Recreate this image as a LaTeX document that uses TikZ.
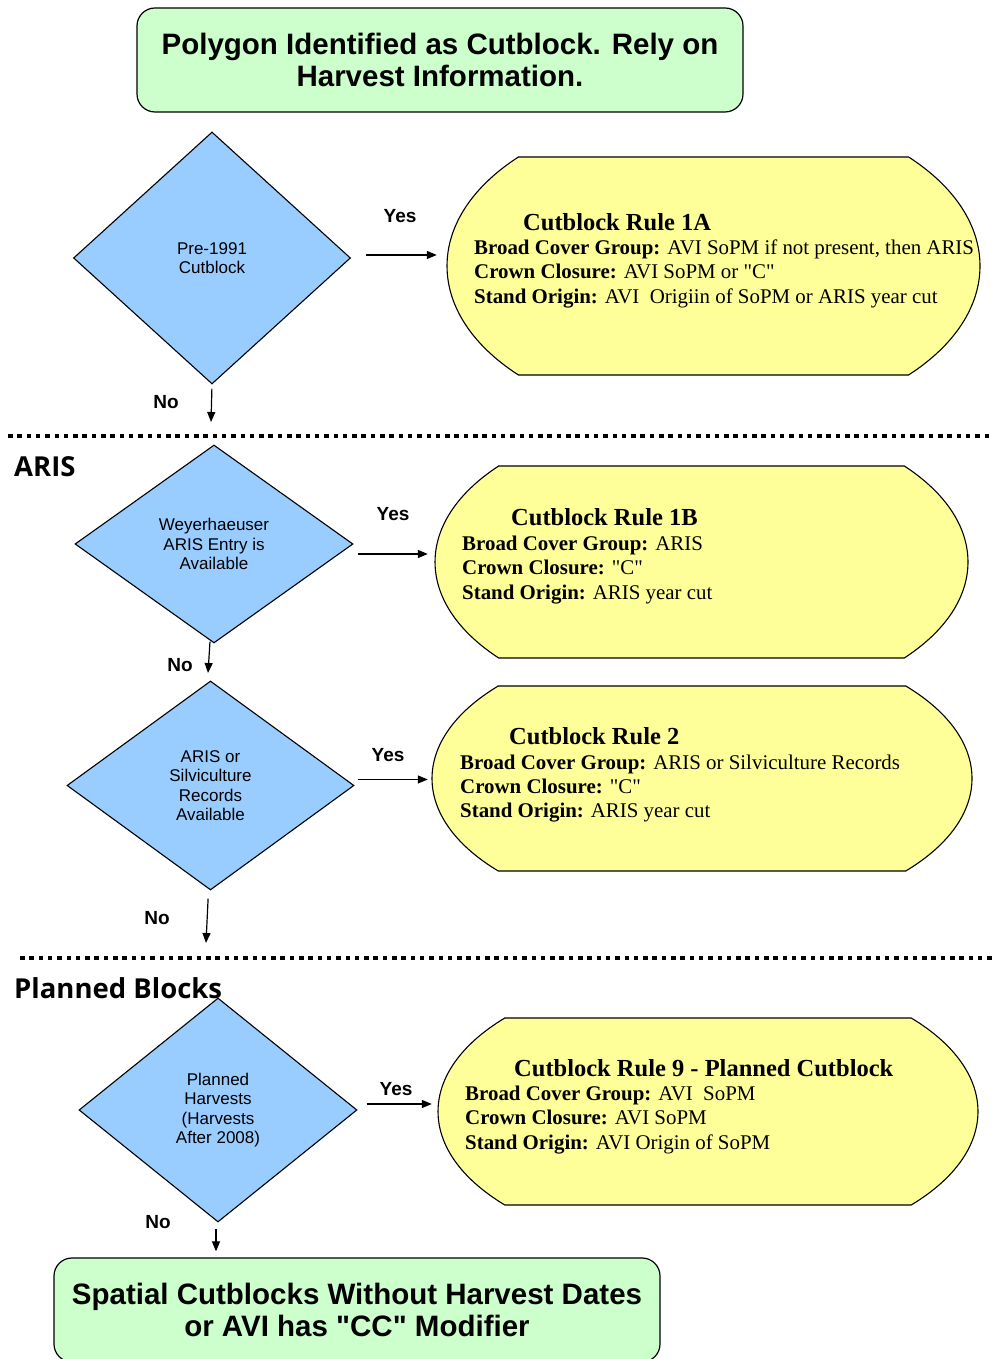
\documentclass[tikz,border=0pt]{standalone}
\usepackage{fontspec}
\setmainfont{Liberation Serif}[Ligatures=TeXOff]
\newfontfamily\arialf{Liberation Sans}
\newfontfamily\osans{Open Sans}
\usetikzlibrary{shapes.geometric,arrows.meta,calc}
\definecolor{boxgreen}{HTML}{CCFFCC}
\definecolor{diablue}{HTML}{99CCFF}
\definecolor{ruleyellow}{HTML}{FFFF99}
\newcommand\sq{\symbol{34}}
\tikzset{
 greenbox/.style={draw, line width=1.2pt, fill=boxgreen, rounded corners=18pt, minimum width=606pt, minimum height=104pt, align=center, font=\arialf\bfseries\fontsize{29.5}{32}\selectfont, inner sep=0pt},
 decision/.style={diamond, draw, line width=1.1pt, fill=diablue, inner sep=0pt, align=center, font=\arialf\fontsize{17}{19.5}\selectfont},
 ruleshape/.style={draw, line width=1.1pt, fill=ruleyellow},
 rulenode/.style={inner sep=0pt, draw=none},
 ruletitle/.style={anchor=base west, inner sep=0pt, font=\bfseries\fontsize{24.5}{28}\selectfont},
 ruleline/.style={anchor=base west, inner sep=0pt, font=\fontsize{20.9}{24}\selectfont},
 arr/.style={line width=1.2pt, -{Triangle[length=10pt,width=8pt]}},
 yn/.style={font=\arialf\bfseries\fontsize{19}{22}\selectfont, inner sep=0pt},
 sectionlabel/.style={anchor=west, inner sep=0pt, font=\osans\bfseries\fontsize{27.5}{30}\selectfont},
 sepline/.style={line width=4pt, dash pattern=on 4.5pt off 4.8pt},
}
\newcommand\cutrule[6]{%
 \pgfmathsetmacro\crT{asin(#5/#6)}%
 \pgfmathsetmacro\crW{#4*cos(\crT)}%
 \draw[ruleshape] ({#2-\crW},{#3+#5}) -- ({#2+\crW},{#3+#5})
   arc[start angle=\crT, end angle=-\crT, x radius=#4pt, y radius=#6pt]
   -- ({#2-\crW},{#3-#5})
   arc[start angle=180+\crT, end angle=180-\crT, x radius=#4pt, y radius=#6pt] -- cycle;
 \node[rulenode, minimum width={2*#4pt}, minimum height={2*#5pt}] (#1) at (#2,#3) {};
}
\begin{document}
\begin{tikzpicture}[x=1pt,y=1pt]
\useasboundingbox (0,0) rectangle (992,1359);
\fill[white] (0,0) rectangle (992,1359);

% top and bottom boxes
\node[greenbox] (G1) at (440,1299) {Polygon Identified as Cutblock. Rely on\\Harvest Information.};
\node[greenbox] (G2) at (357,49) {Spatial Cutblocks Without Harvest Dates\\or AVI has \sq CC\sq{} Modifier};

% separators
\draw[sepline] (8,923) -- (992,923);
\draw[sepline] (20,401) -- (992,401);
\node[sectionlabel] (sARIS) at (14,892) {ARIS};
\node[sectionlabel] (sPB) at (14,371) {Planned Blocks};

% decisions
\node[decision, minimum width=277pt, minimum height=252pt] (D1) at (212,1101) {Pre-1991\\Cutblock};
\node[decision, minimum width=278pt, minimum height=198pt] (D2) at (214,815) {Weyerhaeuser\\ARIS Entry is\\Available};
\node[decision, minimum width=287pt, minimum height=209pt] (D3) at (210.5,573.5) {ARIS or\\Silviculture\\Records\\Available};
\node[decision, minimum width=278pt, minimum height=224pt] (D4) at (218,249) {Planned\\Harvests\\(Harvests\\After 2008)};

% rules
\cutrule{R1}{713.5}{1093}{266.5}{109}{160}
\cutrule{R2}{701.5}{797}{266.5}{96}{148}
\cutrule{R3}{702}{580.5}{270}{92.5}{141}
\cutrule{R4}{708}{247.5}{270}{93.5}{142}

\node[ruletitle] (R1t) at (523,1128) {Cutblock Rule 1A};
\node[ruleline] (R1a) at (474,1104) {\textbf{Broad Cover Group:} AVI SoPM if not present, then ARIS};
\node[ruleline] (R1b) at (474,1080) {\textbf{Crown Closure:} AVI SoPM or \sq C\sq};
\node[ruleline] (R1c) at (474,1055) {\textbf{Stand Origin:} AVI\ \ Origiin\ of SoPM or ARIS year cut};

\node[ruletitle] (R2t) at (511,833) {Cutblock Rule 1B};
\node[ruleline] (R2a) at (462,808) {\textbf{Broad Cover Group:} ARIS};
\node[ruleline] (R2b) at (462,784) {\textbf{Crown Closure:} \sq C\sq};
\node[ruleline] (R2c) at (462,759) {\textbf{Stand Origin:} ARIS year cut};

\node[ruletitle] (R3t) at (509,614) {Cutblock Rule 2};
\node[ruleline] (R3a) at (460,589) {\textbf{Broad Cover Group:} ARIS or Silviculture\ Records};
\node[ruleline] (R3b) at (460,565) {\textbf{Crown Closure:} \sq C\sq};
\node[ruleline] (R3c) at (460,541) {\textbf{Stand Origin:} ARIS year cut};

\node[ruletitle] (R4t) at (514,282) {Cutblock Rule 9 - Planned Cutblock};
\node[ruleline] (R4a) at (465,258) {\textbf{Broad Cover Group:} AVI\ \ SoPM};
\node[ruleline] (R4b) at (465,234) {\textbf{Crown Closure:} AVI SoPM};
\node[ruleline] (R4c) at (465,209) {\textbf{Stand Origin:} AVI Origin\ of SoPM};

% yes arrows
\coordinate (y1) at ([yshift=3pt]D1.east);
\draw[arr, shorten <=15pt, shorten >=10pt] (y1) -- (y1 -| R1.west);
\coordinate (y2) at ([yshift=-10pt]D2.east);
\draw[arr, shorten <=4pt, shorten >=7pt] (y2) -- (y2 -| R2.west);
\coordinate (y3) at ([yshift=6pt]D3.east);
\draw[arr, shorten <=3pt, shorten >=4pt] (y3) -- (y3 -| R3.west);
\coordinate (y4) at ([yshift=6pt]D4.east);
\draw[arr, shorten <=9pt, shorten >=6pt] (y4) -- (y4 -| R4.west);

% no arrows
\coordinate (n1) at (211,937);
\draw[arr, shorten <=4pt] (D1.south) -- (n1);
\coordinate (n2) at (208,686);
\draw[arr] ([xshift=-4pt,yshift=2pt]D2.south) -- (n2);
\coordinate (n3) at (206,416);
\draw[arr, shorten <=8pt] ([xshift=-2pt]D3.south) -- (n3);
\coordinate (n4s) at ([xshift=-2pt]D4.south);
\draw[arr, shorten <=6pt, shorten >=6pt] (n4s) -- (n4s |- G2.north);

% labels
\node[yn] (L1y) at (400,1143) {Yes};
\node[yn] (L2y) at (393,845) {Yes};
\node[yn] (L3y) at (388,604) {Yes};
\node[yn] (L4y) at (396,270) {Yes};
\node[yn] (L1n) at (166,957) {No};
\node[yn] (L2n) at (180,694) {No};
\node[yn] (L3n) at (157,441) {No};
\node[yn] (L4n) at (158,137) {No};
\end{tikzpicture}
\end{document}
